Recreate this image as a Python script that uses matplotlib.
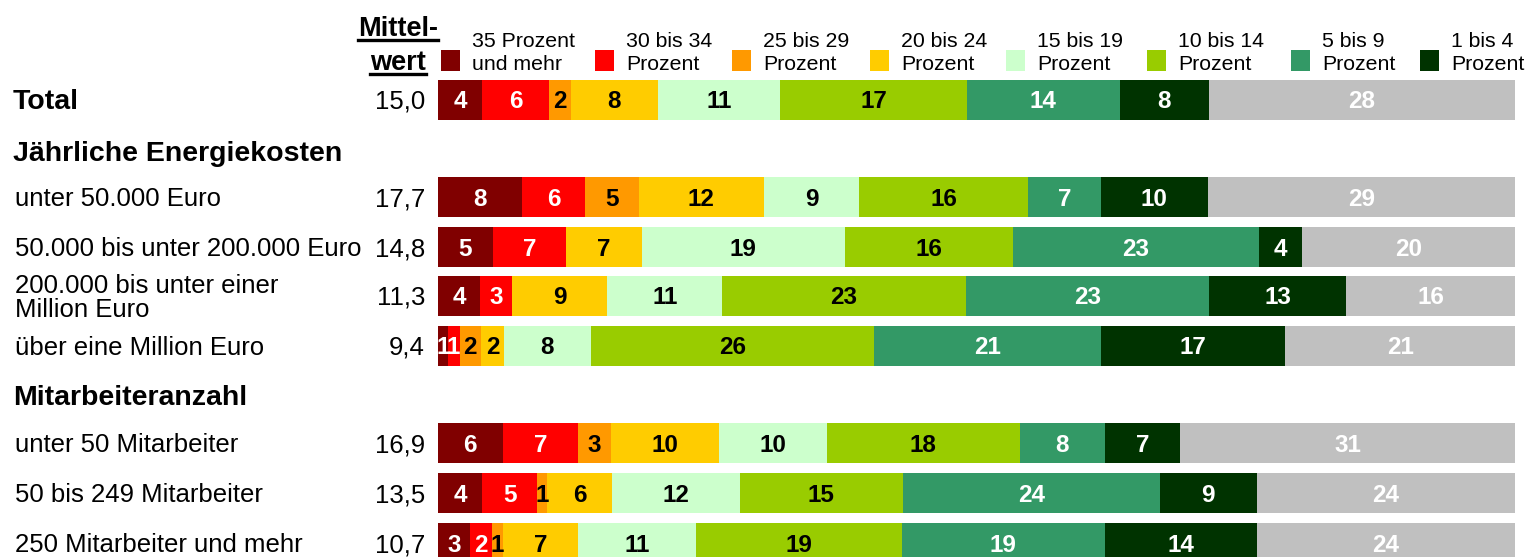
import matplotlib
matplotlib.use("Agg")
import matplotlib.pyplot as plt
from matplotlib.patches import Rectangle
from matplotlib.lines import Line2D
from matplotlib.transforms import blended_transform_factory

plt.rcParams['font.family'] = ['Liberation Sans', 'DejaVu Sans']

# Zeilen (Gruppen)
zeilen = ["Total", "unter 50.000 Euro", "50.000 bis unter 200.000 Euro",
          "200.000 bis unter einer\nMillion Euro", "über eine Million Euro",
          "unter 50 Mitarbeiter", "50 bis 249 Mitarbeiter", "250 Mitarbeiter und mehr"]
mittelwert = [15.0, 17.7, 14.8, 11.3, 9.4, 16.9, 13.5, 10.7]

# Anteile je Kategorie (in Prozent), Reihenfolge wie zeilen
p35 = [4.1, 7.8, 5.1, 3.9, 0.9, 6.0, 4.1, 3.0]
p30 = [6.2, 5.9, 6.8, 3.0, 1.1, 7.0, 5.1, 2.0]
p25 = [2.0, 5.0, 0.0, 0.0, 2.0, 3.1, 0.9, 1.0]
p20 = [8.1, 11.6, 7.0, 8.8, 2.1, 10.0, 6.1, 7.0]
p15 = [11.3, 8.9, 18.9, 10.7, 8.1, 10.0, 11.8, 11.0]
p10 = [17.3, 15.7, 15.6, 22.6, 26.2, 17.9, 15.2, 19.1]
p5 = [14.2, 6.8, 22.8, 22.6, 21.1, 7.9, 23.8, 18.8]
p1 = [8.2, 9.9, 4.0, 12.7, 17.1, 7.0, 9.0, 14.1]
p0 = [28.4, 28.6, 19.8, 15.7, 21.3, 31.1, 24.0, 24.0]

legende = ["35 Prozent\nund mehr", "30 bis 34\nProzent", "25 bis 29\nProzent",
           "20 bis 24\nProzent", "15 bis 19\nProzent", "10 bis 14\nProzent",
           "5 bis 9\nProzent", "1 bis 4\nProzent"]

serien = [p35, p30, p25, p20, p15, p10, p5, p1, p0]
farben = ["#800000", "#FF0000", "#FF9900", "#FFCC00", "#CCFFCC",
          "#99CC00", "#339966", "#003300", "#C0C0C0"]
textfarben = ["white", "white", "black", "black", "black", "black",
              "white", "white", "white"]

# Layout in Pixeln
W, H = 1531, 557
y_zeilen = [100, 197, 247, 296, 346, 443, 493, 543]
fett = [True, False, False, False, False, False, False, False]
ueberschriften = [("Jährliche Energiekosten", 152), ("Mitarbeiteranzahl", 396)]
bar_x0, bar_x1 = 438, 1515
dy = 2  # Textversatz nach unten

fig = plt.figure(figsize=(W / 100, H / 100), dpi=100)
ax = fig.add_axes([bar_x0 / W, 0, (bar_x1 - bar_x0) / W, 1])
ax.set_xlim(0, 100)
ax.set_ylim(H, 0)
ax.axis('off')

summen = [sum(s[i] for s in serien) for i in range(len(zeilen))]
links = [0.0] * len(zeilen)
for serie, farbe, tf in zip(serien, farben, textfarben):
    breite = [v * 100 / summen[i] for i, v in enumerate(serie)]
    ax.barh(y_zeilen, breite, left=links, height=40, color=farbe, linewidth=0)
    for i, v in enumerate(serie):
        if v > 0:
            ax.text(links[i] + breite[i] / 2, y_zeilen[i] + dy, str(round(v)),
                    ha='center', va='center', color=tf, fontsize=17.5,
                    fontweight='bold', clip_on=False)
    links = [l + b for l, b in zip(links, breite)]

tr = blended_transform_factory(fig.transFigure, ax.transData)
for name, y, f in zip(zeilen, y_zeilen, fett):
    if f:
        ax.text(13 / W, y + dy, name, transform=tr, ha='left', va='center',
                fontsize=20.5, fontweight='bold')
    else:
        ax.text(15 / W, y + dy, name, transform=tr, ha='left', va='center',
                fontsize=18.5, linespacing=0.95)
for name, y in ueberschriften:
    ax.text(13 / W, y + dy, name, transform=tr, ha='left', va='center',
            fontsize=20.5, fontweight='bold')
for m, y in zip(mittelwert, y_zeilen):
    ax.text(425 / W, y + dy, f"{m:.1f}".replace(".", ","), transform=tr,
            ha='right', va='center', fontsize=18.5)

# Kopf: Mittelwert
renderer = fig.canvas.get_renderer()
for txt, base in [("Mittel-", 36), ("wert", 70)]:
    t = fig.text(398 / W, 1 - base / H, txt, ha='center', va='baseline',
                 fontsize=19.5, fontweight='bold')
    bb = t.get_window_extent(renderer)
    yl = (1 - (base + 3.5) / H)
    fig.add_artist(Line2D([bb.x0 / W, bb.x1 / W], [yl, yl], color='black',
                          linewidth=2.4, transform=fig.transFigure))

# Legende
leg_x = [441, 595, 732, 870, 1006, 1147, 1291, 1420]
for x, lab, farbe in zip(leg_x, legende, farben):
    fig.add_artist(Rectangle((x / W, 1 - 71 / H), 19 / W, 21 / H,
                             facecolor=farbe, edgecolor='none',
                             transform=fig.transFigure))
    z1, z2 = lab.split("\n")
    fig.text((x + 31) / W, 1 - 47 / H, z1, ha='left', va='baseline', fontsize=15.3)
    fig.text((x + 31) / W, 1 - 70 / H, z2, ha='left', va='baseline', fontsize=15.3)

fig.savefig("out.png", dpi=100)
